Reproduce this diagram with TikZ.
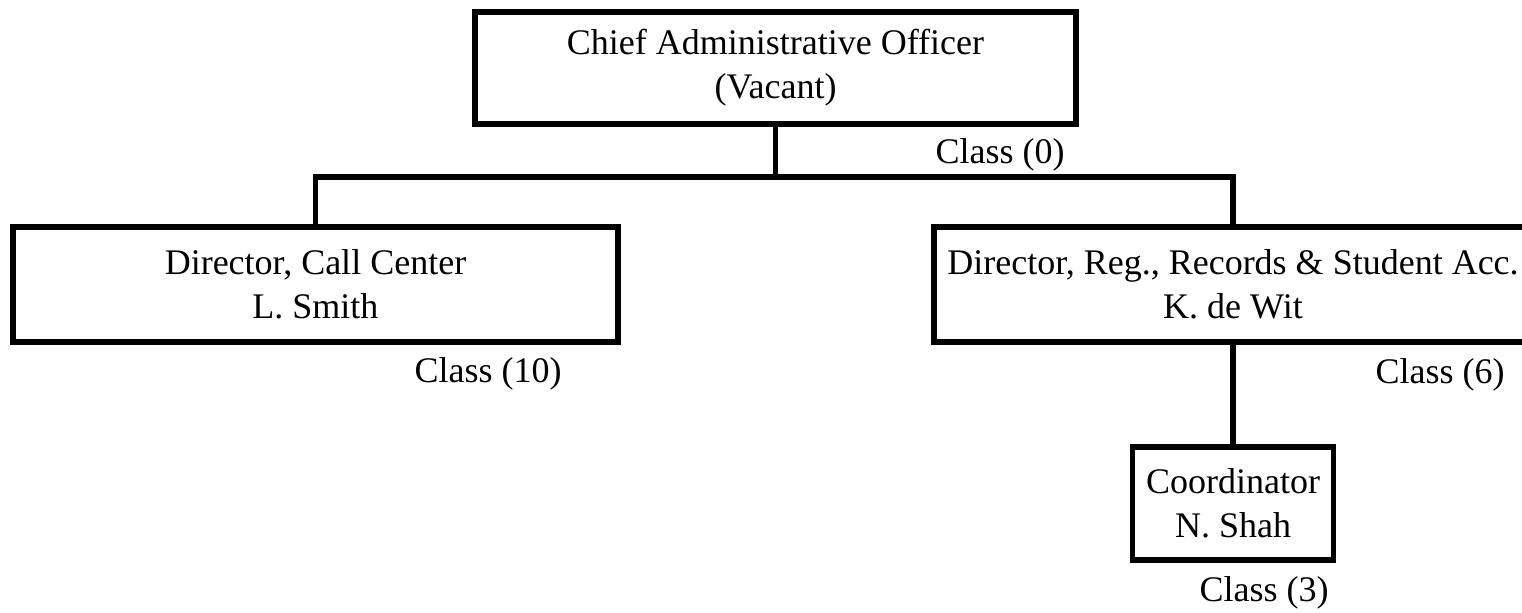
\documentclass[tikz,border=0pt]{standalone}
\usepackage{fontspec}
\setmainfont{Liberation Serif}
\begin{document}
\begin{tikzpicture}[x=0.5pt,y=-0.5pt,
  orgbox/.style={draw=black,line width=2.6pt,rectangle,inner sep=0pt,align=center,
    font=\fontsize{18pt}{22pt}\selectfont},
  classlbl/.style={inner sep=0pt,font=\fontsize{18pt}{22pt}\selectfont},
  conn/.style={line width=2.6pt}]
\useasboundingbox (0,0) rectangle (1522,613);
\clip (0,0) rectangle (1522,613);
\node[orgbox,minimum width=300.5pt,minimum height=56pt] (cao) at (775.5,68) {Chief Administrative Officer\\(Vacant)};
\node[orgbox,minimum width=302.5pt,minimum height=57.5pt] (dcc) at (315.5,284.5) {Director, Call Center\\L. Smith};
\node[orgbox,minimum width=299pt,minimum height=57.5pt] (dreg) at (1233,284.5) {Director, Reg., Records \& Student Acc.\\K. de Wit};
\node[orgbox,minimum width=100.5pt,minimum height=56.5pt] (coord) at (1233,503.5) {Coordinator\\N. Shah};
\coordinate (bus) at (775.5,177);
\draw[conn] (cao.south) -- (bus);
\draw[conn] (dcc.north) |- (bus) -| (dreg.north);
\draw[conn] (dreg.south) -- (coord.north);
\node[classlbl] (c0) at (1000,155) {Class (0)};
\node[classlbl] (c10) at (488,374) {Class (10)};
\node[classlbl] (c6) at (1440,375) {Class (6)};
\node[classlbl] (c3) at (1264,593) {Class (3)};
\end{tikzpicture}
\end{document}
